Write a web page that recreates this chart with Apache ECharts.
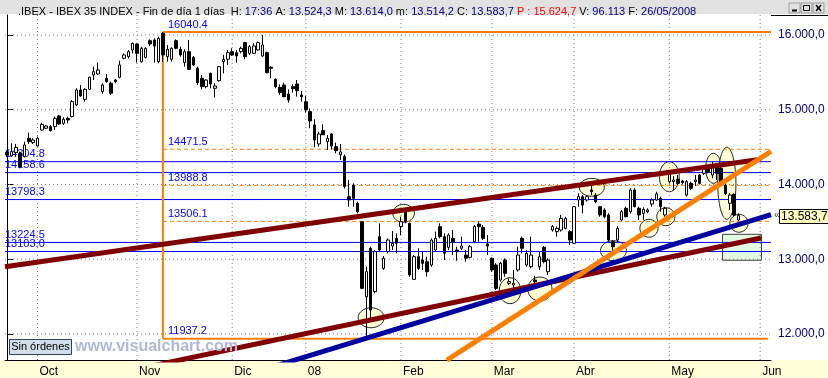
<!DOCTYPE html>
<html>
<head>
<meta charset="utf-8">
<title>IBEX 35</title>
<script src="https://cdn.jsdelivr.net/npm/echarts@6.0.0/dist/echarts.min.js"></script>
<style>
html, body { margin: 0; padding: 0; background: #fff; }
#chart { width: 828px; height: 378px; }
</style>
</head>
<body>
<div id="chart"></div>
<script>
// sesiones desde sep-2007 hasta may-2008 (indice = sesion)
var monthIdx = [7, 30, 52, 69, 91, 112, 131, 153, 174];
var monthLabels = ['Oct', 'Nov', 'Dic', '08', 'Feb', 'Mar', 'Abr', 'May', 'Jun'];
var sessionCount = 177;

var open = [14430,14381,14426,14417,14372,14618,14560,14515,14729,14752,
 14774,14774,14917,14818,14885,14908,15064,15264,15139,15273,
 15465,15478,15242,15420,15354,15398,15434,15688,15710,15800,
 15880,15643,15701,15924,15933,15643,16023,15710,15675,15924,
 15808,15630,15777,15701,15554,15420,15309,15487,15287,15389,
 15643,15675,15777,15764,15777,15898,15755,15755,15800,15719,
 15764,15568,15407,15300,15331,15211,15309,15345,15197,15108,
 14975,14796,14542,14720,14573,14676,14506,14399,14372,13837,
 13993,13748,13502,12499,13146,12566,13302,12878,13101,13177,
 13279,13436,13659,13480,12731,13034,12989,12967,12923,13123,
 13436,13302,13159,13279,13123,13146,13056,13025,13235,13471,
 13427,13204,13012,12923,12722,12989,12677,12655,12856,13279,
 12923,12900,12722,12900,13159,12833,13391,13369,13391,13413,
 13369,13213,13792,13837,13792,13926,13859,13703,13659,13592,
 13235,13257,13525,13681,13636,13926,13681,13614,13636,13739,
 13792,13815,13592,14038,14038,14069,14047,13859,14015,14038,
 14127,14149,14216,14127,14238,14216,13990,13748,13868,13524.3];

var high = [14455,14551,14542,14439,14573,14693,14618,14640,14827,14796,
 14796,14908,14930,14899,14908,15130,15287,15331,15287,15443,
 15577,15630,15354,15478,15376,15412,15657,15755,15800,15898,
 15889,15844,15835,15942,15956,15978,16040.4,15866,15835,15942,
 15844,15808,15933,15719,15577,15465,15407,15496,15354,15585,
 15733,15800,15822,15800,15844,15911,15866,15889,15911,16000,
 15777,15585,15420,15340,15362,15273,15340,15398,15251,15184,
 15019,14872,14707,14805,14662,14685,14560,14542,14400,14060,
 14015,13770,13510,12900,13168,13123,13480,13043,13279,13378,
 13346,13569,13681,13490,13056,13146,13101,13034,13279,13369,
 13480,13346,13346,13391,13168,13302,13123,13190,13458,13502,
 13458,13324,13025,12945,12967,13012,12744,12856,13168,13302,
 13123,13302,12780,13101,13177,13012,13458,13436,13592,13569,
 13391,13712,13882,13859,13859,14015,13882,13712,13681,13614,
 13257,13445,13659,13703,13948,13948,13703,13694,13681,13815,
 13904,13837,13703,14194,14113,14127,14060,14060,14038,14127,
 14140,14238,14261,14300,14261,14238,14015,13882,13882,13614.0];

var low = [14370,14372,14372,14216,14363,14542,14542,14506,14720,14740,
 14711,14729,14796,14796,14818,14899,15050,15175,15108,15264,
 15398,15465,15211,15362,15197,15354,15420,15675,15688,15755,
 15630,15630,15688,15853,15630,15621,15643,15643,15643,15808,
 15710,15577,15532,15585,15331,15273,15287,15287,15166,15376,
 15487,15599,15719,15630,15755,15675,15733,15746,15791,15710,
 15487,15420,15287,15200,15166,15095,15229,15175,15108,14961,
 14752,14497,14506,14662,14461,14470,14417,14328,13948,13703,
 13703,13614,12600,11937.2,12164,12544,13101,12856,13079,13123,
 13079,13324,13480,12766,12722,12856,12856,12766,12900,13101,
 13279,12989,13123,13056,12980,13123,12967,13012,13213,13235,
 13257,13056,12833,12588,12700,12766,12655,12588,12833,13079,
 12900,12878,12650,12856,12945,12789,13369,13302,13369,13400,
 13190,13204,13703,13614,13770,13859,13748,13569,13547,13235,
 13079,13235,13516,13560,13614,13694,13525,13525,13614,13703,
 13783,13636,13570,14015,13926,13993,14000,13837,13926,13980,
 14000,14127,14149,14082,14060,13971,13860,13659,13569,13514.2];

var close = [14395,14439,14497,14238,14528,14573,14595,14618,14805,14783,
 14720,14885,14810,14872,14863,15108,15264,15184,15273,15434,
 15510,15532,15331,15376,15220,15376,15599,15733,15777,15889,
 15755,15822,15822,15880,15853,15956,15733,15808,15822,15822,
 15733,15777,15541,15599,15362,15309,15398,15345,15318,15577,
 15675,15764,15733,15719,15822,15710,15844,15853,15898,15866,
 15496,15554,15309,15230,15175,15130,15282,15255,15175,14997,
 14850,14595,14676,14665,14618,14515,14453,14435,13971,13793,
 13815,13636,12610,12833,12320,13101,13123,13012,13257,13213,
 13213,13502,13502,12789,13034,12878,12945,12833,13257,13279,
 13302,13079,13324,13235,13101,13177,13012,13168,13436,13436,
 13279,13177,12856,12610,12945,12811,12700,12677,13056,13146,
 13079,13056,12700,13034,12967,12989,13436,13413,13547,13547,
 13257,13703,13837,13725,13837,13904,13770,13592,13569,13257,
 13168,13413,13636,13569,13926,13703,13592,13667,13659,13792,
 13873,13703,13681,14171,14060,14015,14024,14038,13948,14060,
 14015,14216,14171,14261,14149,13993,13880,13859,13592,13583.7];

var priceTicks = [12000, 13000, 14000, 15000, 16000];
var yMin = 11651.5, yMax = 16267.6;

// retroceso de Fibonacci desde el maximo de noviembre
var fibLevels = [16040.4, 14471.5, 13988.8, 13506.1, 11937.2];
var fibStart = 36;
// soportes / resistencias horizontales
var pivotLevels = [14304.8, 14158.6, 13798.3, 13224.5, 13103.0];
// lineas de tendencia [sesion, precio]
var redUpper = [[-0.5, 12900], [174.2, 14337]];
var redLower = [[-0.5, 11160], [174.2, 13284]];
var blueTrend = [[60, 11536], [176.5, 13596]];
var orangeTrend = [[101.6, 11651], [176.5, 14442]];
// elipses marcadas: [sesion desde, sesion hasta, precio min, precio max]
var ellipses = [
    [81.1, 87.1, 12083, 12351],
    [89.1, 94.1, 13494, 13734],
    [113.7, 118.7, 12405, 12753],
    [120.3, 125.9, 12440, 12762],
    [137.1, 143.1, 12980, 13248],
    [132.2, 138.0, 13842, 14082],
    [146.2, 150.4, 13294, 13534],
    [150.1, 154.3, 13449, 13689],
    [150.7, 155.3, 13903, 14305],
    [161.4, 165.0, 14015, 14417],
    [164.2, 168.4, 13534, 14498],
    [167.0, 171.2, 13361, 13601]
];
var greenBox = [165.3, 174.3, 12986, 13333];

var FONT = 'Liberation Sans, Arial, sans-serif';

function fmt(v) {
    var s = v.toFixed(1).split('.');
    return s[0].replace(/\B(?=(\d{3})+(?!\d))/g, '.') + ',' + s[1];
}

var cats = [];
for (var i = 0; i < sessionCount; i++) cats.push(String(i));
var candles = [];
for (var i = 0; i < open.length; i++) candles.push([open[i], close[i], low[i], high[i]]);

function isMonth(i) { return monthIdx.indexOf(i) >= 0; }

function seg(pts, color, width, type, z) {
    return {
        type: 'line', xAxisIndex: 1, yAxisIndex: 0, data: pts,
        symbol: 'none', silent: true, animation: false, clip: true, z: z,
        lineStyle: { color: color, width: width, type: type || 'solid' }
    };
}

var series = [];
// rejilla punteada
priceTicks.forEach(function (v) {
    series.push(seg([[-0.5, v], [176.5, v]], '#808080', 1, [1, 3], 1));
});
monthIdx.forEach(function (m) {
    series.push(seg([[m, yMin], [m, yMax]], '#808080', 1, [1, 3], 1));
});
// lineas azules horizontales
pivotLevels.forEach(function (v) {
    series.push(seg([[-0.5, v], [176.5, v]], '#0000ff', 1, 'solid', 2));
});
// Fibonacci
series.push(seg([[fibStart, fibLevels[0]], [176.5, fibLevels[0]]], '#ff8000', 2, 'solid', 2));
series.push(seg([[fibStart, fibLevels[0]], [fibStart, fibLevels[4]]], '#ff8000', 2, 'solid', 2));
series.push(seg([[fibStart, fibLevels[4]], [175.8, fibLevels[4]]], '#ff8000', 2, 'solid', 2));
for (var k = 1; k <= 3; k++) {
    series.push(seg([[fibStart, fibLevels[k]], [176.5, fibLevels[k]]], '#ff8000', 1, [4, 3], 2));
}
series.push({
    type: 'candlestick', xAxisIndex: 0, yAxisIndex: 0, data: candles,
    barWidth: 3, z: 3, silent: true, animation: false,
    itemStyle: { color: '#ffffff', color0: '#000000', borderColor: '#000000', borderColor0: '#000000', borderWidth: 1 }
});
// tendencias
series.push(seg(redUpper, '#800000', 5, 'solid', 4));
series.push(seg(redLower, '#800000', 5, 'solid', 4));
series.push(seg(blueTrend, '#0000a0', 5, 'solid', 4));
series.push(seg(orangeTrend, '#ff8000', 5, 'solid', 5));

var titleText = '{k|.IBEX - IBEX 35 INDEX - Fin de día 1 días  H: }{v|17:36}{k| A: }{v|13.524,3}' +
    '{k| M: }{v|13.614,0}{k| m: }{v|13.514,2}{k| C: }{v|13.583,7}{r| P : 15.624,7}' +
    '{k| V: }{v|96.113}{k| F: }{v|26/05/2008}';

var chart = echarts.init(document.getElementById('chart'));
chart.setOption({
    backgroundColor: '#ffffff',
    animation: false,
    title: {
        text: titleText, left: 13, top: 1,
        textStyle: {
            fontSize: 11, fontFamily: FONT, fontWeight: 'normal',
            rich: {
                k: { color: '#000000', fontSize: 11, fontFamily: FONT },
                v: { color: '#000080', fontSize: 11, fontFamily: FONT },
                r: { color: '#ff0000', fontSize: 11, fontFamily: FONT }
            }
        }
    },
    grid: { left: 5, right: 57, top: 15, bottom: 18, containLabel: false },
    xAxis: [{
        type: 'category', data: cats, boundaryGap: true,
        axisLine: { lineStyle: { color: '#000', width: 1 } },
        axisTick: { alignWithLabel: true, length: 10, interval: function (i) { return isMonth(i); },
                    lineStyle: { color: '#000' } },
        axisLabel: {
            interval: function (i) { return isMonth(i); },
            formatter: function (v, i) { var p = monthIdx.indexOf(Number(v)); return p >= 0 ? monthLabels[p] : ''; },
            align: 'left', padding: [0, 0, 0, 2], margin: 6,
            color: '#000', fontSize: 12, fontFamily: FONT
        },
        splitLine: { show: false }
    }, {
        type: 'value', min: -0.5, max: 176.5, show: false
    }],
    yAxis: [{
        type: 'value', position: 'right', min: yMin, max: yMax,
        axisLine: { show: true, lineStyle: { color: '#000', width: 1 } },
        axisTick: { show: true, length: 6, customValues: priceTicks, lineStyle: { color: '#000' } },
        axisLabel: { customValues: priceTicks, formatter: fmt, color: '#000080', fontSize: 12,
                     fontFamily: FONT, margin: 7 },
        splitLine: { show: false }
    }],
    series: series
});

function px(x, v) { return chart.convertToPixel({ xAxisIndex: 1, yAxisIndex: 0 }, [x, v]); }

var g = [];
// barra de titulo y eje inferior
g.push({ type: 'rect', z: -1, shape: { x: 0, y: 0, width: 828, height: 14 }, style: { fill: '#e2e2e2' } });
g.push({ type: 'rect', z: -1, shape: { x: 0, y: 360, width: 828, height: 18 }, style: { fill: '#ffffd8' } });
g.push({ type: 'line', z: 5, shape: { x1: 771, y1: 15.5, x2: 828, y2: 15.5 }, style: { stroke: '#000', lineWidth: 1 } });
// botones de ventana
[789, 801, 813].forEach(function (bx, n) {
    g.push({ type: 'rect', z: 5, shape: { x: bx, y: 3, width: 11, height: 10 }, style: { fill: '#e2e2e2', stroke: '#9a9a9a' } });
    if (n === 0) g.push({ type: 'line', z: 6, shape: { x1: bx + 3, y1: 10.5, x2: bx + 8, y2: 10.5 }, style: { stroke: '#000', lineWidth: 2 } });
    if (n === 1) g.push({ type: 'rect', z: 6, shape: { x: bx + 2.5, y: 5.5, width: 6, height: 5 }, style: { fill: 'none', stroke: '#000', lineWidth: 1 } });
    if (n === 2) {
        g.push({ type: 'line', z: 6, shape: { x1: bx + 3, y1: 5, x2: bx + 8, y2: 11 }, style: { stroke: '#000', lineWidth: 1.5 } });
        g.push({ type: 'line', z: 6, shape: { x1: bx + 8, y1: 5, x2: bx + 3, y2: 11 }, style: { stroke: '#000', lineWidth: 1.5 } });
    }
});
// elipses
ellipses.forEach(function (e) {
    var a = px(e[0], e[3]), b = px(e[1], e[2]);
    g.push({ type: 'ellipse', z: 0,
        shape: { cx: (a[0] + b[0]) / 2, cy: (a[1] + b[1]) / 2, rx: (b[0] - a[0]) / 2, ry: (b[1] - a[1]) / 2 },
        style: { fill: 'rgba(255,255,200,0.75)', stroke: '#222', lineWidth: 1 } });
});
var ga = px(greenBox[0], greenBox[3]), gb = px(greenBox[1], greenBox[2]);
g.push({ type: 'rect', z: 0, shape: { x: ga[0], y: ga[1], width: gb[0] - ga[0], height: gb[1] - ga[1] },
    style: { fill: '#e2fae2', stroke: '#404040', lineWidth: 1 } });
// etiquetas de niveles
fibLevels.forEach(function (v) {
    var p = px(fibStart, v);
    g.push({ type: 'text', z: 1, x: p[0] + 5, y: p[1] - 2,
        style: { text: v.toFixed(1), fill: '#0000ff', font: '11px ' + FONT, textVerticalAlign: 'bottom' } });
});
pivotLevels.forEach(function (v) {
    var p = px(-0.5, v);
    g.push({ type: 'text', z: 1, x: p[0], y: p[1] - 2,
        style: { text: v.toFixed(1), fill: '#0000ff', font: '11px ' + FONT, textVerticalAlign: 'bottom' } });
});
// ultimo precio en la escala
var lastClose = close[close.length - 1];
var lp = px(176.5, lastClose);
g.push({ type: 'text', z: 7, x: lp[0] + 3, y: lp[1],
    style: { text: '«', fill: '#404040', font: '10px ' + FONT, textVerticalAlign: 'middle' } });
g.push({ type: 'rect', z: 7, shape: { x: lp[0] + 8.5, y: Math.round(lp[1]) - 6.5, width: 60, height: 14 },
    style: { fill: '#ffffc0', stroke: '#000', lineWidth: 1 } });
g.push({ type: 'text', z: 8, x: lp[0] + 10, y: Math.round(lp[1]) + 0.5,
    style: { text: fmt(lastClose), fill: '#000000', font: '12px ' + FONT, textVerticalAlign: 'middle' } });
// marca de agua y estado
g.push({ type: 'text', z: 7, x: 75, y: 347,
    style: { text: 'www.visualchart.com', fill: '#b0b9da', font: 'bold 16px ' + FONT, textVerticalAlign: 'middle' } });
g.push({ type: 'rect', z: 7, shape: { x: 9.5, y: 339.5, width: 62, height: 15 }, style: { fill: '#d2deea', stroke: '#30405a', lineWidth: 1 } });
g.push({ type: 'text', z: 8, x: 40.5, y: 347,
    style: { text: 'Sin órdenes', fill: '#000', font: '11px ' + FONT, textAlign: 'center', textVerticalAlign: 'middle' } });

chart.setOption({ graphic: { elements: g } });
</script>
</body>
</html>
